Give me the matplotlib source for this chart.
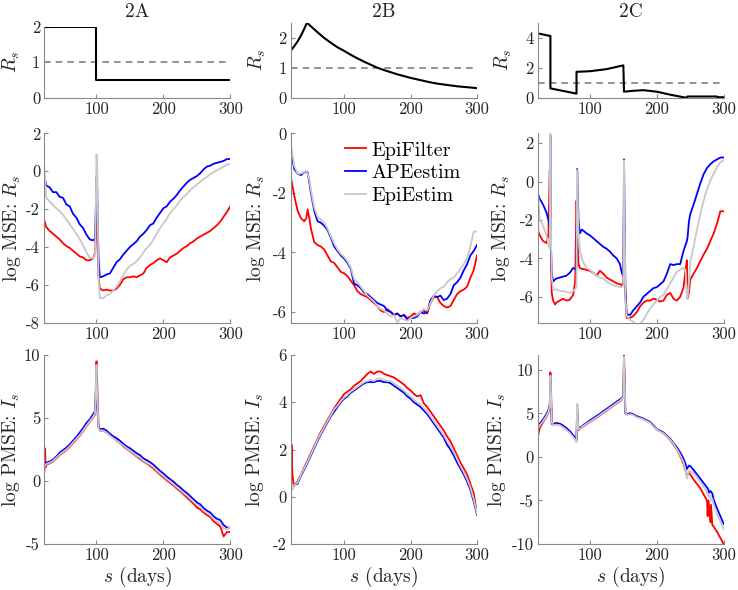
import matplotlib
matplotlib.use("Agg")
import matplotlib.pyplot as plt

plt.rcParams['font.family'] = 'serif'
plt.rcParams['font.serif'] = ['cmr10']
plt.rcParams['mathtext.fontset'] = 'cm'
plt.rcParams['axes.unicode_minus'] = False

# ---------------- data ----------------
panel_titles = ["2A", "2B", "2C"]
method_names = ["EpiFilter", "APEestim", "EpiEstim"]

# true reproduction numbers (top row)
xA_true = [22, 100, 100, 300]
RA_true = [2.0, 2.0, 0.5, 0.5]
xB_true = [20, 25, 30, 35, 40, 44, 50, 60, 70, 80, 90, 100, 110, 120, 130, 140, 150, 160,
           170, 180, 190, 200, 210, 220, 230, 240, 250, 260, 270, 280, 290, 300]
RB_true = [1.58, 1.72, 1.88, 2.07, 2.3, 2.5, 2.38, 2.18, 1.99, 1.83, 1.68, 1.56, 1.43, 1.31,
           1.2, 1.1, 1.0, 0.92, 0.85, 0.78, 0.72, 0.66, 0.61, 0.56, 0.51, 0.47, 0.44, 0.41,
           0.38, 0.36, 0.34, 0.32]
xC_true = [22, 41, 41, 80, 80, 100, 125, 150, 151, 165, 180, 200, 220, 240, 245, 246, 290, 291, 300]
RC_true = [4.28, 4.1, 0.62, 0.27, 1.72, 1.76, 1.9, 2.15, 0.4, 0.46, 0.5, 0.4, 0.2, 0.03, 0.0,
           0.08, 0.08, 0.03, 0.03]

# ---- 2A log MSE R ----
xA_mse = [22, 25, 30, 35, 40, 45, 50, 55, 60, 65, 70, 75, 80, 85, 90, 95,
          98, 100, 101, 103, 105,
          110, 115, 120, 125, 130, 135, 140, 145, 150,
          155, 160, 165, 170, 175, 180, 185, 190, 195, 200,
          205, 210, 215, 220, 225, 230, 235, 240, 245, 250,
          255, 260, 265, 270, 275, 280, 285, 290, 295, 300]
A_mse_epifilter = [-2.6, -2.95, -3.15, -3.3, -3.45, -3.6, -3.8, -3.95, -4.05, -4.2, -4.35, -4.5, -4.55, -4.7, -4.7, -4.6,
                   -4.3, -1.5, -3.0, -5.5, -6.2,
                   -6.3, -6.25, -6.3, -6.3, -6.2, -6.0, -5.7, -5.6, -5.6,
                   -5.55, -5.6, -5.5, -5.4, -5.1, -4.95, -4.85, -4.7, -4.6, -4.7,
                   -4.8, -4.55, -4.45, -4.35, -4.2, -4.05, -3.95, -3.8, -3.7, -3.55,
                   -3.45, -3.35, -3.25, -3.15, -3.0, -2.85, -2.65, -2.4, -2.15, -1.85]
A_mse_apeestim = [-0.3, -0.75, -0.85, -1.1, -1.1, -1.35, -1.4, -1.75, -1.85, -2.25, -2.45, -2.8, -3.0, -3.35, -3.6, -3.65,
                  -3.55, -0.3, -0.8, -4.5, -5.6,
                  -5.55, -5.45, -5.4, -5.1, -4.8, -4.65, -4.4, -4.2, -4.0,
                  -3.85, -3.7, -3.45, -3.3, -3.1, -2.85, -2.75, -2.45, -2.2, -1.95,
                  -1.85, -1.6, -1.45, -1.25, -1.0, -0.8, -0.6, -0.45, -0.35, -0.25,
                  -0.1, 0.1, 0.25, 0.3, 0.4, 0.45, 0.5, 0.55, 0.65, 0.65]
A_mse_epiestim = [0.2, -1.4, -1.6, -1.8, -1.95, -2.1, -2.3, -2.55, -2.8, -3.05, -3.3, -3.6, -3.9, -4.3, -4.55, -4.6,
                  -4.4, 0.9, 0.5, -5.5, -6.7,
                  -6.7, -6.55, -6.5, -6.3, -6.1, -5.8, -5.5, -5.2, -5.0,
                  -4.9, -4.75, -4.55, -4.3, -4.05, -3.9, -3.6, -3.3, -3.0, -2.75,
                  -2.5, -2.2, -2.0, -1.8, -1.55, -1.35, -1.2, -1.0, -0.85, -0.7,
                  -0.55, -0.4, -0.3, -0.15, -0.05, 0.05, 0.15, 0.25, 0.35, 0.4]

# ---- 2B log MSE R ----
xB_mse = [20, 25, 30, 35, 40, 43, 45, 48,
          50, 55, 60, 65, 70, 75, 80, 85, 90, 95,
          100, 105, 110, 115, 120, 125, 130, 135, 140, 145,
          150, 155, 160, 165, 170, 175, 180, 185, 190, 195,
          200, 205, 210, 215, 220, 225, 230, 235, 240, 245,
          250, 255, 260, 265, 270, 275, 280, 285, 290, 295,
          300]
B_mse_epifilter = [-1.5, -2.1, -2.6, -2.85, -2.95, -2.85, -2.55, -2.9,
                   -3.2, -3.65, -3.75, -3.8, -3.9, -4.1, -4.3, -4.35, -4.5, -4.65,
                   -4.7, -4.8, -4.95, -5.1, -5.3, -5.4, -5.45, -5.5, -5.6, -5.7,
                   -5.8, -5.95, -6.0, -5.9, -6.0, -6.1, -6.05, -6.15, -6.1, -6.2,
                   -6.15, -6.05, -6.1, -6.0, -5.95, -6.05, -5.7, -5.5, -5.5, -5.7,
                   -5.8, -5.85, -5.8, -5.6, -5.4, -5.3, -5.25, -5.15, -4.85, -4.6,
                   -4.1]
B_mse_apeestim = [-0.6, -1.2, -1.35, -1.4, -1.3, -1.3, -1.3, -1.7,
                  -2.0, -2.6, -2.95, -3.0, -3.1, -3.25, -3.5, -3.8, -3.95, -4.1,
                  -4.2, -4.35, -4.55, -5.05, -5.1, -5.2, -5.35, -5.4, -5.5, -5.6,
                  -5.7, -5.75, -5.8, -5.95, -6.0, -6.1, -6.05, -6.15, -6.1, -6.25,
                  -6.2, -6.2, -6.15, -6.0, -6.05, -6.0, -5.6, -5.45, -5.5, -5.45,
                  -5.6, -5.55, -5.4, -5.1, -5.0, -4.85, -4.6, -4.4, -4.1, -3.95,
                  -3.75]
B_mse_epiestim = [-0.4, -1.1, -1.35, -1.35, -1.3, -1.25, -1.35, -1.6,
                  -1.9, -2.5, -2.8, -2.9, -3.0, -3.2, -3.45, -3.7, -3.9, -4.05,
                  -4.15, -4.3, -4.5, -4.9, -5.0, -5.15, -5.3, -5.45, -5.55, -5.65,
                  -5.8, -5.9, -5.95, -6.05, -6.15, -6.1, -6.35, -6.2, -6.25, -6.3,
                  -6.2, -6.15, -6.1, -6.0, -5.9, -5.95, -5.7, -5.45, -5.3, -5.2,
                  -5.15, -5.0, -4.9, -4.85, -4.7, -4.55, -4.4, -4.2, -3.8, -3.3,
                  -3.3]

# ---- 2C log MSE R ----
xC_mse = [22, 25, 30, 35, 38,
          40, 41, 42, 43, 45, 48,
          50, 55, 60, 65, 70, 75, 78,
          80, 81, 83, 85, 88,
          90, 95, 100, 105, 110, 115, 120, 125, 130, 135, 140, 145, 148,
          150, 151, 152, 153, 155,
          160, 165, 170, 175, 180, 185, 190, 195, 200, 205, 210, 215, 220, 225, 230, 235, 240,
          243, 245, 246, 248,
          250, 255, 260, 265, 270, 275, 280, 285, 290, 295, 300]
C_mse_epifilter = [-2.5, -2.8, -3.1, -3.2, -2.8,
                   0.6, -1.0, -4.5, -5.8, -6.2, -6.4,
                   -6.3, -6.2, -6.1, -6.2, -6.15, -5.9, -5.2,
                   -1.0, -2.5, -4.3, -4.5, -4.55,
                   -4.55, -4.6, -4.65, -4.75, -4.9, -4.65, -4.8, -5.0, -5.1, -5.2, -5.3, -5.35, -5.4,
                   -5.2, -1.0, -3.0, -6.0, -7.1,
                   -7.1, -7.0, -6.8, -6.5, -6.3, -6.2, -6.2, -6.1, -6.15, -6.25, -6.2, -5.9, -5.8, -6.1, -6.2, -6.0, -5.5,
                   -4.6, -4.1, -6.1, -5.8,
                   -5.1, -4.8, -4.5, -4.15, -3.8, -3.5, -3.1, -2.7, -2.2, -1.55, -1.55]
C_mse_apeestim = [-0.6, -0.9, -1.2, -1.6, -2.0,
                  -2.3, 2.4, -3.5, -4.8, -5.2, -5.1,
                  -5.05, -5.0, -4.95, -4.9, -4.75, -4.5, -4.55,
                  -4.5, 0.65, -2.0, -2.7, -2.5,
                  -2.55, -2.7, -2.8, -2.95, -3.1, -3.25, -3.4, -3.5, -3.65, -3.85, -4.0, -4.3, -4.8,
                  -4.9, 1.15, -2.0, -5.5, -6.9,
                  -6.95, -6.7, -6.5, -6.3, -6.0, -5.85, -5.7, -5.55, -5.5, -5.35, -5.2, -4.8, -4.3, -4.35, -4.3, -4.3, -3.6,
                  -3.3, -3.1, -2.9, -2.1,
                  -1.7, -1.2, -0.65, -0.1, 0.38, 0.7, 0.9, 1.05, 1.15, 1.25, 1.25]
C_mse_epiestim = [-0.3, -2.0, -2.3, -2.8, -3.3,
                  -3.5, 2.5, -3.0, -5.0, -5.6, -5.65,
                  -5.6, -5.7, -5.7, -5.75, -5.8, -5.7, -5.6,
                  -5.5, 0.6, -2.8, -3.6, -4.0,
                  -4.2, -4.5, -4.6, -4.75, -4.9, -5.0, -5.05, -5.2, -5.3, -5.4, -5.45, -5.5, -5.5,
                  -5.4, 1.1, -2.0, -6.0, -7.0,
                  -7.2, -7.3, -7.5, -7.45, -7.2, -6.9, -6.6, -6.4, -6.2, -6.0, -5.9, -5.6, -5.3, -5.0, -4.7, -4.6, -4.5,
                  -4.6, -6.0, -6.1, -5.3,
                  -4.2, -3.4, -2.5, -1.7, -1.0, -0.4, 0.05, 0.4, 0.75, 1.0, 1.1]

# ---- 2A log PMSE I ----
xA_pmse = [22, 23, 24,
           25, 30, 35, 40, 45, 50, 55, 60, 65, 70, 75, 80, 85, 90, 95,
           98, 100, 101, 103, 105,
           110, 115, 120, 125, 130, 135, 140, 145, 150,
           155, 160, 165, 170, 175, 180, 185, 190, 195, 200,
           205, 210, 215, 220, 225, 230, 235, 240, 245, 250,
           255, 260, 265, 270, 275, 280, 285, 290, 295, 300]
A_pmse_epifilter = [0.8, 2.6, 1.1,
                    1.3, 1.4, 1.55, 1.8, 2.05, 2.25, 2.45, 2.7, 3.0, 3.3, 3.6, 3.95, 4.35, 4.7, 5.05,
                    5.3, 9.5, 8.0, 4.5, 4.0,
                    4.0, 3.85, 3.65, 3.45, 3.2, 3.0, 2.75, 2.55, 2.35,
                    2.15, 1.95, 1.75, 1.55, 1.4, 1.2, 1.0, 0.75, 0.5, 0.3,
                    0.05, -0.15, -0.35, -0.6, -0.8, -1.05, -1.3, -1.55, -1.8, -2.1,
                    -2.25, -2.5, -2.7, -2.85, -3.2, -3.4, -3.6, -4.4, -4.05, -4.05]
A_pmse_apeestim = [1.3, 1.35, 1.4,
                   1.45, 1.55, 1.7, 1.95, 2.25, 2.45, 2.65, 2.9, 3.2, 3.5, 3.85, 4.2, 4.6, 4.9, 5.3,
                   5.55, 8.5, 6.0, 4.3, 4.1,
                   4.15, 4.0, 3.75, 3.55, 3.4, 3.2, 2.95, 2.75, 2.6,
                   2.4, 2.2, 2.05, 1.8, 1.65, 1.5, 1.3, 1.05, 0.8, 0.6,
                   0.35, 0.15, -0.05, -0.3, -0.5, -0.75, -0.95, -1.2, -1.45, -1.7,
                   -1.85, -2.15, -2.35, -2.5, -2.8, -3.0, -3.1, -3.5, -3.7, -3.7]
A_pmse_epiestim = [1.1, 1.2, 1.3,
                   1.35, 1.45, 1.6, 1.85, 2.1, 2.3, 2.5, 2.75, 3.05, 3.35, 3.65, 4.0, 4.4, 4.75, 5.1,
                   5.4, 9.2, 7.0, 4.2, 4.0,
                   4.0, 3.85, 3.6, 3.4, 3.2, 3.0, 2.8, 2.6, 2.4,
                   2.2, 2.0, 1.85, 1.6, 1.45, 1.3, 1.1, 0.85, 0.6, 0.4,
                   0.15, -0.05, -0.25, -0.5, -0.7, -0.95, -1.15, -1.4, -1.65, -1.9,
                   -2.05, -2.35, -2.55, -2.7, -3.0, -3.2, -3.35, -3.75, -3.85, -3.6]

# ---- 2B log PMSE I ----
xB_pmse = [20, 21, 22, 24,
           25, 30, 35, 40, 45, 50, 55, 60, 65, 70,
           75, 80, 85, 90, 95, 100, 105, 110, 115, 120,
           125, 130, 135, 140, 145, 150, 155, 160, 165, 170,
           175, 180, 185, 190, 195, 200, 205, 210, 215, 220,
           225, 230, 235, 240, 245, 250, 255, 260, 265, 270,
           275, 280, 285, 290, 295, 300]
B_pmse_epifilter = [0.0, 2.2, 1.0, 0.5,
                    0.5, 0.65, 0.95, 1.25, 1.55, 1.85, 2.15, 2.45, 2.75, 3.0,
                    3.25, 3.5, 3.75, 3.95, 4.15, 4.35, 4.45, 4.55, 4.7, 4.8,
                    4.9, 5.05, 5.2, 5.3, 5.2, 5.3, 5.3, 5.2, 5.15, 5.1,
                    5.05, 4.95, 4.85, 4.75, 4.6, 4.5, 4.35, 4.25, 4.3, 3.95,
                    3.8, 3.6, 3.4, 3.2, 3.0, 2.8, 2.55, 2.35, 2.05, 1.75,
                    1.45, 1.2, 0.95, 0.55, 0.15, -0.7]
B_pmse_apeestim = [0.25, 0.45, 0.35, 0.45,
                   0.5, 0.55, 0.9, 1.15, 1.45, 1.75, 2.05, 2.35, 2.65, 2.9,
                   3.15, 3.4, 3.6, 3.8, 4.0, 4.15, 4.25, 4.4, 4.5, 4.6,
                   4.7, 4.8, 4.85, 4.85, 4.85, 4.9, 4.9, 4.85, 4.85, 4.8,
                   4.7, 4.6, 4.5, 4.4, 4.25, 4.15, 4.0, 3.9, 3.8, 3.65,
                   3.5, 3.3, 3.1, 2.9, 2.7, 2.5, 2.2, 2.0, 1.75, 1.45,
                   1.2, 0.95, 0.65, 0.3, -0.2, -0.75]
B_pmse_epiestim = [0.3, 0.5, 0.3, 0.45,
                   0.5, 0.6, 0.95, 1.2, 1.5, 1.8, 2.1, 2.4, 2.7, 2.95,
                   3.2, 3.45, 3.7, 3.85, 4.05, 4.2, 4.3, 4.45, 4.55, 4.65,
                   4.75, 4.85, 4.9, 4.95, 4.9, 5.0, 5.0, 4.95, 4.9, 4.9,
                   4.8, 4.7, 4.6, 4.5, 4.35, 4.25, 4.1, 4.0, 3.9, 3.75,
                   3.6, 3.4, 3.2, 3.0, 2.8, 2.6, 2.35, 2.15, 1.9, 1.6,
                   1.3, 1.05, 0.75, 0.4, -0.1, -0.7]

# ---- 2C log PMSE I ----
xC_pmse = [22, 25, 30, 35, 38,
           40, 41, 42, 43, 45, 48,
           50, 55, 60, 65, 70, 75, 78,
           80, 81, 82, 83, 85, 88,
           90, 95, 100, 105, 110, 115, 120, 125, 130, 135, 140, 145, 148,
           150, 151, 152, 153, 155,
           160, 165, 170, 175, 180, 185, 190, 195, 200, 205, 210, 215, 220, 225, 230, 235, 240,
           243, 245, 248,
           250, 255, 260, 265, 270, 275, 276, 277, 278, 280, 281, 283, 285, 290, 295, 300]
C_pmse_epifilter = [2.3, 3.3, 4.0, 4.6, 5.1,
                    5.6, 9.7, 7.5, 4.0, 3.7, 3.9,
                    3.9, 3.8, 3.55, 3.25, 2.9, 2.45, 2.1,
                    1.9, 5.0, 3.8, 3.1, 3.2, 3.4,
                    3.5, 3.75, 4.0, 4.25, 4.5, 4.75, 5.05, 5.3, 5.6, 5.85, 6.15, 6.4, 6.65,
                    6.9, 11.9, 9.0, 5.2, 4.9,
                    5.0, 4.85, 4.7, 4.5, 4.35, 4.15, 3.95, 3.55, 3.15, 2.95, 2.7, 2.35, 1.95, 1.4, 0.85, 0.1, -0.8,
                    -1.6, -2.2, -1.8,
                    -2.0, -2.6, -3.1, -3.6, -4.3, -5.0, -6.8, -5.0, -5.6, -7.5, -5.5, -7.8, -8.0, -8.6, -9.3, -10.0]
C_pmse_apeestim = [3.4, 3.8, 4.3, 4.9, 5.4,
                   6.0, 8.8, 6.5, 3.8, 3.75, 3.8,
                   3.85, 3.8, 3.6, 3.3, 2.95, 2.5, 2.2,
                   2.05, 6.0, 4.0, 3.3, 3.35, 3.5,
                   3.65, 3.9, 4.2, 4.45, 4.7, 4.95, 5.25, 5.5, 5.8, 6.05, 6.35, 6.6, 6.8,
                   7.0, 11.0, 8.0, 5.0, 4.9,
                   5.0, 4.9, 4.6, 4.55, 4.4, 4.2, 4.0, 3.6, 3.2, 3.0, 2.8, 2.45, 2.1, 1.6, 1.1, 0.5, -0.2,
                   -0.8, -1.4, -1.0,
                   -1.05, -1.5, -2.0, -2.5, -3.0, -3.5, -3.6, -3.8, -4.1, -3.9, -4.0, -4.2, -4.9, -5.9, -6.8, -7.7]
C_pmse_epiestim = [3.2, 3.6, 4.1, 4.7, 5.2,
                   5.8, 9.3, 7.0, 4.0, 3.6, 3.7,
                   3.7, 3.65, 3.4, 3.1, 2.75, 2.3, 1.95,
                   1.7, 6.1, 4.2, 3.2, 3.2, 3.4,
                   3.55, 3.8, 4.05, 4.3, 4.55, 4.8, 5.1, 5.35, 5.65, 5.9, 6.2, 6.45, 6.7,
                   6.9, 11.5, 8.5, 5.2, 4.8,
                   4.9, 4.8, 4.55, 4.45, 4.3, 4.1, 3.9, 3.5, 3.15, 2.9, 2.7, 2.35, 2.0, 1.5, 0.9, 0.2, -0.6,
                   -1.5, -2.5, -1.6,
                   -1.6, -1.9, -2.3, -2.9, -3.4, -4.0, -4.4, -4.3, -4.6, -4.4, -5.0, -4.8, -5.5, -6.5, -7.4, -8.3]

# ticks
x_ticks = [100, 200, 300]
y_ticks = [
    [[0, 1, 2], [0, 1, 2], [0, 2, 4]],
    [[-8, -6, -4, -2, 0, 2], [-6, -4, -2, 0], [-6, -4, -2, 0, 2]],
    [[-5, 0, 5, 10], [-2, 0, 2, 4, 6], [-10, -5, 0, 5, 10]],
]
y_lims = [
    [(0, 2.0), (0, 2.5), (0, 5.0)],
    [(-8, 2), (-6.36, 0), (-7.35, 2.5)],
    [(-5, 10), (-2, 6), (-10, 11.7)],
]
x_lims = [(22, 300), (20, 300), (22, 300)]
row_labels = [r"$R_s$", r"log MSE: $R_s$", r"log PMSE: $I_s$"]

# ---------------- layout ----------------
W, H = 738, 590
fig = plt.figure(figsize=(W / 100, H / 100), dpi=100)

col_left = [44.3, 291.0, 537.7]
col_w = 186.0
row_tops = [[26.7, 22.7, 22.5], [133.5, 133.5, 133.5], [355, 355, 355]]
row_bottoms = [97.7, 322.7, 544.0]

spine_col = "#8a8a8a"
text_col = "#262626"
colors = {"EpiFilter": "#ff0000", "APEestim": "#0000ff", "EpiEstim": "#c8c8c8"}

truth = [(xA_true, RA_true), (xB_true, RB_true), (xC_true, RC_true)]
mse = [(xA_mse, [A_mse_epifilter, A_mse_apeestim, A_mse_epiestim]),
       (xB_mse, [B_mse_epifilter, B_mse_apeestim, B_mse_epiestim]),
       (xC_mse, [C_mse_epifilter, C_mse_apeestim, C_mse_epiestim])]
pmse = [(xA_pmse, [A_pmse_epifilter, A_pmse_apeestim, A_pmse_epiestim]),
        (xB_pmse, [B_pmse_epifilter, B_pmse_apeestim, B_pmse_epiestim]),
        (xC_pmse, [C_pmse_epifilter, C_pmse_apeestim, C_pmse_epiestim])]

# right edge of rotated y labels, in px from figure left
label_right = [[22, 268, 514], [23, 267, 512], [22, 266, 508]]

for r in range(3):
    for c in range(3):
        top = row_tops[r][c]
        bot = row_bottoms[r]
        ax = fig.add_axes([col_left[c] / W, 1 - bot / H, col_w / W, (bot - top) / H])
        if r == 0:
            xs, ys = truth[c]
            ax.axhline(1.0, color="#808080", ls=(0, (4, 3)), lw=1.2, zorder=1)
            ax.plot(xs, ys, color="black", lw=1.5, zorder=2)
        else:
            xs, series = (mse if r == 1 else pmse)[c]
            for name, ys in zip(method_names, series):
                ax.plot(xs, ys, color=colors[name], lw=1.3, label=name)
        ax.set_xlim(*x_lims[c])
        ax.set_ylim(*y_lims[r][c])
        ax.set_xticks(x_ticks)
        ax.set_xticklabels([str(v) for v in x_ticks])
        ax.set_yticks(y_ticks[r][c])
        ax.set_yticklabels([str(v) for v in y_ticks[r][c]])
        for s in ["top", "right"]:
            ax.spines[s].set_visible(False)
        for s in ["left", "bottom"]:
            ax.spines[s].set_color(spine_col)
            ax.spines[s].set_linewidth(0.8)
        ax.tick_params(direction="in", length=3, width=0.8, color=spine_col,
                       labelcolor=text_col, labelsize=12, pad=3)
        ax.set_ylabel(row_labels[r], fontsize=14, color=text_col)
        ax.yaxis.set_label_coords((label_right[r][c] - col_left[c]) / col_w, 0.5)
        if r == 2:
            ax.set_xlabel(r"$s$ (days)", fontsize=14, color=text_col, labelpad=1)
        if r == 0:
            fig.text((col_left[c] + col_w / 2) / W, 1 - 12 / H, panel_titles[c],
                     ha="center", va="center", fontsize=14, color=text_col)
        if r == 1 and c == 1:
            ax.legend(loc="upper left", bbox_to_anchor=(0.29, 0.958), frameon=False,
                      fontsize=14.5, handlelength=1.05, handletextpad=0.25,
                      labelspacing=0.22, borderpad=0, borderaxespad=0)

fig.savefig("out.png", dpi=100)
